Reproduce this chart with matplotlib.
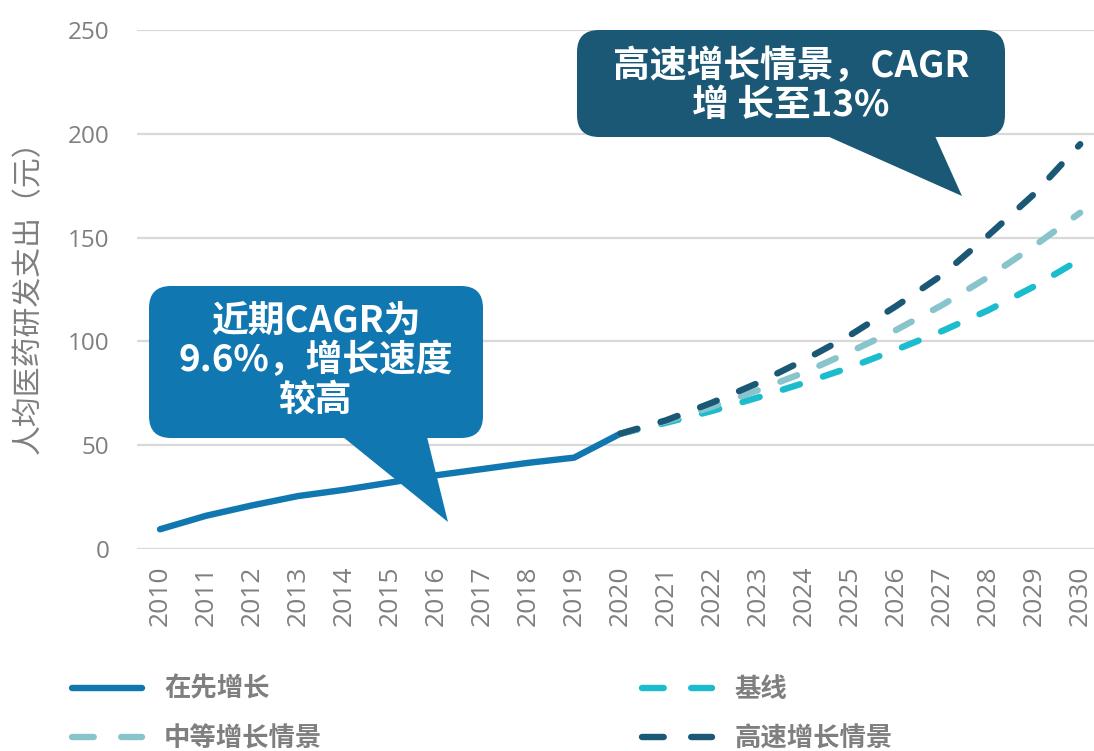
import numpy as np
import matplotlib
matplotlib.use("Agg")
import matplotlib.pyplot as plt
from matplotlib.patches import FancyBboxPatch, Polygon
from matplotlib.lines import Line2D

plt.rcParams['font.family'] = ['Noto Sans CJK SC', 'DejaVu Sans']

# data
years_hist = list(range(2010, 2021))
hist = [9.5, 16, 21, 25.5, 28.5, 32, 35.5, 38.5, 41.5, 44, 55.5]

years_fc = list(range(2020, 2031))
base = [55.5, 60.8, 66.5, 73, 80, 87.5, 96, 105, 115, 126.5, 139.5]
medium = [55.5, 61.5, 68.5, 76.5, 85, 95, 105.5, 117.5, 131, 146, 162]
high = [55.5, 62, 70.5, 80, 91, 103, 117, 132, 151, 171, 195]

labels = ['在先增长', '中等增长情景', '基线', '高速增长情景']
ylabel = '人均医药研发支出（元）'
note_high = '高速增长情景，CAGR\n增 长至13%'
note_hist = '近期CAGR为\n9.6%，增长速度\n较高'

c_hist = '#1077b0'
c_base = '#1bbccd'
c_med = '#88c4cc'
c_high = '#1a5876'
grey = '#7f7f7f'

W, H = 1094, 751
fig = plt.figure(figsize=(W / 100, H / 100), dpi=100)
ax = fig.add_axes([137 / W, 1 - 549 / H, 1 - 137 / W, (549 - 30) / H])

dash = (2.8, 3.8)
ax.plot(years_hist, hist, color=c_hist, lw=4.6, solid_capstyle='round', zorder=3)
ax.plot(years_fc, base, color=c_base, lw=4.6, dashes=dash, dash_capstyle='round', zorder=4)
ax.plot(years_fc, medium, color=c_med, lw=4.6, dashes=dash, dash_capstyle='round', zorder=5)
ax.plot(years_fc, high, color=c_high, lw=4.6, dashes=dash, dash_capstyle='round', zorder=6)

ax.set_xlim(2009.5, 2030.3)
ax.set_ylim(0, 250)
ax.set_yticks(range(0, 251, 50))
ax.set_xticks(range(2010, 2031))
ax.set_xticklabels([str(y) for y in range(2010, 2031)], rotation=90,
                   fontfamily='Open Sans', fontsize=19, color=grey)
ax.set_yticklabels([str(v) for v in range(0, 251, 50)],
                   fontfamily='Open Sans', fontsize=17.5, color=grey)
ax.tick_params(length=0)
ax.tick_params(axis='y', pad=20)
ax.tick_params(axis='x', pad=12)
ax.grid(axis='y', color='#d9d9d9', lw=1.6, zorder=0)
for s in ax.spines.values():
    s.set_visible(False)
ax.set_ylabel(ylabel, fontsize=21.5, color=grey, labelpad=17)

# overlay in pixel units for the callouts
ov = fig.add_axes([0, 0, 1, 1], zorder=10)
ov.set_xlim(0, W)
ov.set_ylim(H, 0)
ov.axis('off')

ov.add_patch(FancyBboxPatch((577, 30), 1005 - 577, 137 - 30,
                            boxstyle='round,pad=0,rounding_size=22',
                            fc=c_high, ec='none'))
ov.add_patch(Polygon([(827, 136), (935, 136), (962, 196)], closed=True,
                     fc=c_high, ec='none'))
ov.text(791, 86, note_high, color='white', fontsize=26.5, fontweight='bold',
        ha='center', va='center', linespacing=1.05)

ov.add_patch(FancyBboxPatch((149, 286), 483 - 149, 438 - 286,
                            boxstyle='round,pad=0,rounding_size=22',
                            fc=c_hist, ec='none'))
ov.add_patch(Polygon([(343, 437), (427, 437), (448, 522)], closed=True,
                     fc=c_hist, ec='none'))
ov.text(316, 361, note_hist, color='white', fontsize=26.5, fontweight='bold',
        ha='center', va='center', linespacing=1.08)

# legend
leg_dash = (3.4, 4.3)
h_hist = Line2D([], [], color=c_hist, lw=4.6, solid_capstyle='round')
h_med = Line2D([], [], color=c_med, lw=4.6, dashes=leg_dash, dash_capstyle='round')
h_base = Line2D([], [], color=c_base, lw=4.6, dashes=leg_dash, dash_capstyle='round')
h_high = Line2D([], [], color=c_high, lw=4.6, dashes=leg_dash, dash_capstyle='round')

leg_kw = dict(frameon=False, handlelength=2.65, handletextpad=0.85, labelspacing=0.85,
              prop={'size': 19, 'weight': 'bold'}, labelcolor=grey, loc='upper left')
leg1 = fig.legend([h_hist, h_med], [labels[0], labels[1]],
                  bbox_to_anchor=(48 / W, 1 - 652 / H), **leg_kw)
leg2 = fig.legend([h_base, h_high], [labels[2], labels[3]],
                  bbox_to_anchor=(618 / W, 1 - 652 / H), **leg_kw)

fig.savefig('out.png', dpi=100)
